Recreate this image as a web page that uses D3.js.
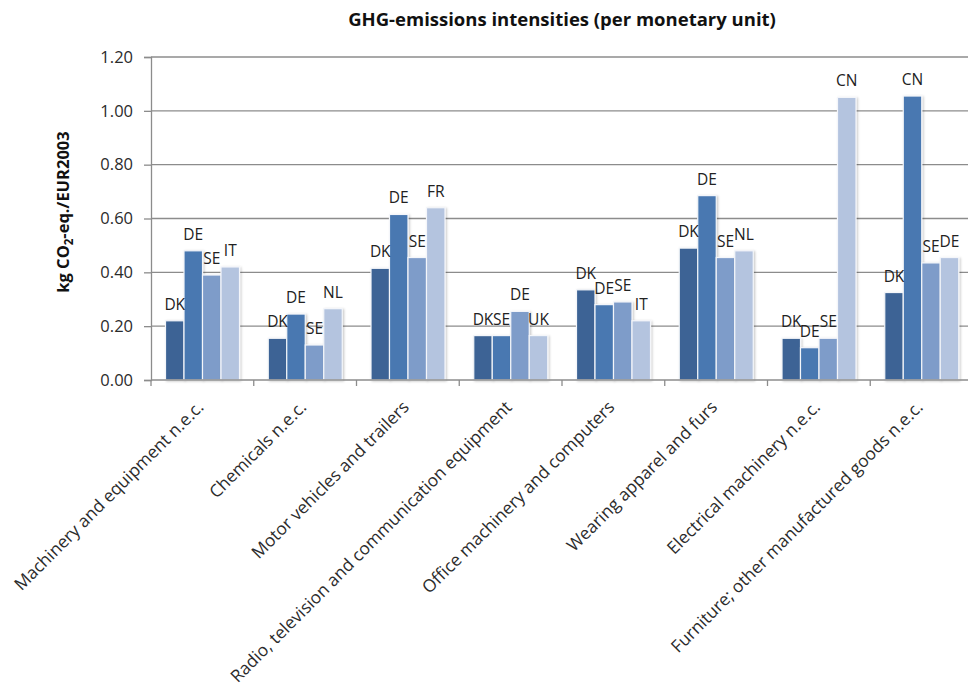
<!DOCTYPE html>
<html>
<head>
<meta charset="utf-8">
<script src="https://cdn.jsdelivr.net/npm/d3@7"></script>
<style>
  html, body { margin: 0; padding: 0; background: #fff; }
  svg { display: block; font-family: "Open Sans", Lato, sans-serif; }
</style>
</head>
<body>
<svg id="chart" width="968" height="693"></svg>
<script>
// Industry groups shown along the x axis
const categories = [
  "Machinery and equipment n.e.c.",
  "Chemicals n.e.c.",
  "Motor vehicles and trailers",
  "Radio, television and communication equipment",
  "Office machinery and computers",
  "Wearing apparel and furs",
  "Electrical machinery n.e.c.",
  "Furniture; other manufactured goods n.e.c."
];

// Four bars per group; each position has its own country label
const seriesSlots = ["s1", "s2", "s3", "s4"];
const countryLabels = [
  ["DK", "DE", "SE", "IT"],
  ["DK", "DE", "SE", "NL"],
  ["DK", "DE", "SE", "FR"],
  ["DK", "SE", "DE", "UK"],
  ["DK", "DE", "SE", "IT"],
  ["DK", "DE", "SE", "NL"],
  ["DK", "DE", "SE", "CN"],
  ["DK", "CN", "SE", "DE"]
];

// kg CO2-eq. per EUR2003
const values = [
  [0.22, 0.48, 0.39, 0.42],
  [0.155, 0.245, 0.13, 0.265],
  [0.415, 0.615, 0.455, 0.64],
  [0.165, 0.165, 0.255, 0.165],
  [0.335, 0.28, 0.29, 0.22],
  [0.49, 0.685, 0.455, 0.48],
  [0.155, 0.12, 0.155, 1.05],
  [0.325, 1.055, 0.435, 0.455]
];

const yTicks = [0, 0.2, 0.4, 0.6, 0.8, 1.0, 1.2];
const seriesColors = ["#3d6495", "#4878b1", "#7e9cc9", "#b4c4df"];

const svg = d3.select("#chart");
const margin = { left: 151, top: 57, bottom: 380, right: 973 };

const defs = svg.append("defs");
const shadow = defs.append("filter").attr("id", "barShadow")
  .attr("x", "-30%").attr("y", "-10%").attr("width", "160%").attr("height", "120%");
shadow.append("feDropShadow")
  .attr("dx", 1.2).attr("dy", 0.8).attr("stdDeviation", 1)
  .attr("flood-color", "#000").attr("flood-opacity", 0.22);

const x0 = d3.scaleBand().domain(categories).range([margin.left, margin.right]).paddingInner(0).paddingOuter(0);
const x1 = d3.scaleBand().domain(seriesSlots).range([14.5, 88.5]).paddingInner(0);
const y = d3.scaleLinear().domain([0, 1.2]).range([margin.bottom, margin.top]);

// Horizontal gridlines
svg.append("g")
  .selectAll("line").data(yTicks.filter(d => d > 0)).join("line")
  .attr("x1", margin.left).attr("x2", 968)
  .attr("y1", d => y(d)).attr("y2", d => y(d))
  .attr("stroke", "#8c8c8c").attr("stroke-width", 1.3);

// Y axis
const yAxis = svg.append("g")
  .attr("transform", `translate(${margin.left},0)`)
  .call(d3.axisLeft(y).tickValues(yTicks).tickFormat(d3.format(".2f")).tickSizeOuter(0).tickSize(7).tickPadding(11));
yAxis.select(".domain").attr("stroke", "#8c8c8c").attr("stroke-width", 1.3);
yAxis.selectAll(".tick line").attr("stroke", "#8c8c8c").attr("stroke-width", 1.3);
yAxis.selectAll(".tick text").attr("fill", "#2b2b2b").style("font-size", "16.5px")
  .style("font-family", "'Open Sans', sans-serif");

// Bars
const groups = svg.append("g").selectAll("g").data(categories).join("g")
  .attr("transform", d => `translate(${x0(d)},0)`);

groups.each(function (cat, ci) {
  const g = d3.select(this);
  const rows = seriesSlots.map((s, si) => ({ s, si, v: values[ci][si], lab: countryLabels[ci][si] }));
  g.selectAll("rect").data(rows).join("rect")
    .attr("x", d => x1(d.s))
    .attr("width", x1.bandwidth())
    .attr("y", d => y(d.v))
    .attr("height", d => y(0) - y(d.v))
    .attr("fill", d => seriesColors[d.si])
    .attr("stroke", "#f4f6fa").attr("stroke-width", 1.2)
    .attr("filter", "url(#barShadow)");
  g.selectAll("text").data(rows).join("text")
    .attr("x", d => x1(d.s) + x1.bandwidth() / 2)
    .attr("y", d => y(d.v) - 11)
    .attr("text-anchor", "middle")
    .attr("fill", "#222")
    .style("font-size", "15.5px")
    .text(d => d.lab);
});

// X axis line with ticks at group boundaries
const xAxis = svg.append("g").attr("transform", `translate(0,${margin.bottom})`);
xAxis.append("line").attr("x1", margin.left).attr("x2", 968)
  .attr("stroke", "#8c8c8c").attr("stroke-width", 1.5);
xAxis.selectAll("line.tick").data(categories).join("line").attr("class", "tick")
  .attr("x1", d => x0(d)).attr("x2", d => x0(d)).attr("y1", 0).attr("y2", 6)
  .attr("stroke", "#8c8c8c").attr("stroke-width", 1.3);
xAxis.selectAll("text").data(categories).join("text")
  .attr("transform", d => `translate(${x0(d) + x0.bandwidth() / 2 - 2},${24}) rotate(-45)`)
  .attr("text-anchor", "end")
  .attr("dy", "0.35em")
  .attr("fill", "#2b2b2b")
  .style("font-size", "17.3px")
  .text(d => d);

// Title
svg.append("text")
  .attr("x", (margin.left + margin.right) / 2).attr("y", 26)
  .attr("text-anchor", "middle")
  .style("font-size", "18.5px").style("font-weight", "bold")
  .attr("fill", "#111")
  .text("GHG-emissions intensities (per monetary unit)");

// Y axis title with subscript
const yt = svg.append("text")
  .attr("transform", `translate(69,212) rotate(-90)`)
  .attr("text-anchor", "middle")
  .style("font-size", "16.5px").style("font-weight", "bold")
  .attr("fill", "#111");
yt.append("tspan").text("kg CO");
yt.append("tspan").attr("dy", 4).style("font-size", "11.5px").text("2");
yt.append("tspan").attr("dy", -4).text("-eq./EUR2003");
</script>
</body>
</html>
